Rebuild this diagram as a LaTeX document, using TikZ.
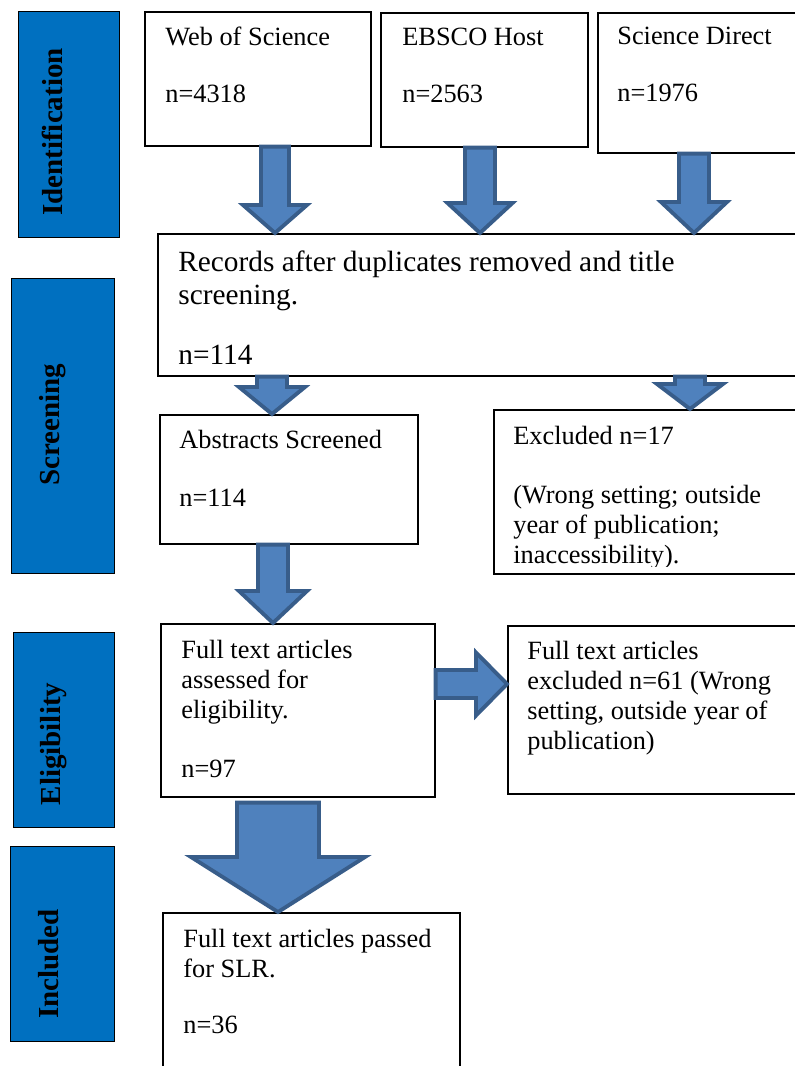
\documentclass[tikz,border=0pt]{standalone}
\usepackage{fontspec}
\setmainfont{Liberation Serif}
\usetikzlibrary{calc}
\definecolor{barblue}{HTML}{0070C0}
\definecolor{arrowfill}{HTML}{4F81BD}
\definecolor{arrowline}{HTML}{385D8A}
\newcommand{\fatdown}[5]{%
  \path[blockarrow] let \p1=(#1), \p2=(#2) in
    ({\x1-#3},\y1) -- ({\x1+#3},\y1) -- ({\x1+#3},{\y2+#5}) -- ({\x1+#4},{\y2+#5})
    -- (\x1,\y2) -- ({\x1-#4},{\y2+#5}) -- ({\x1-#3},{\y2+#5}) -- cycle;}
\newcommand{\fatright}[5]{%
  \path[blockarrow] let \p1=(#1), \p2=(#2) in
    (\x1,{\y1+#3}) -- (\x1,{\y1-#3}) -- ({\x2-#5},{\y1-#3}) -- ({\x2-#5},{\y1-#4})
    -- (\x2,\y1) -- ({\x2-#5},{\y1+#4}) -- ({\x2-#5},{\y1+#3}) -- cycle;}

\begin{document}
\begin{tikzpicture}[x=0.02cm, y=-0.02cm]
\tikzset{phase/.style 2 args = {draw, line width=.8pt, fill=barblue, anchor=north west, inner sep=0,
  minimum width=#1*0.02cm, minimum height=#2*0.02cm}}
\tikzset{phaselabel/.style = {rotate=90, anchor=base, inner sep=0, font=\bfseries\fontsize{16.5}{19}\selectfont}}
\tikzset{textbox/.style 2 args = {draw, line width=.9pt, anchor=north west, inner sep=0,
  minimum width=#1*0.02cm, minimum height=#2*0.02cm}}
\tikzset{txt/.style = {anchor=north west, align=left, inner sep=0, font=\fontsize{15}{17.07}\selectfont}}
\tikzset{blockarrow/.style = {fill=arrowfill, draw=arrowline, line width=2.2pt, line join=miter}}

\clip (0,0) rectangle (795,1066);

\node[phase={101}{226}] (ident) at (18,11) {};
\node[phase={103}{295}] (screen) at (11,278) {};
\node[phase={101}{195}] (elig) at (13,632) {};
\node[phase={104}{195}] (incl) at (10,846) {};

\node[phaselabel] (identtxt) at (62,132) {Identification};
\node[phaselabel] (screentxt) at (59,425) {Screening};
\node[phaselabel] (eligtxt) at (60,744) {Eligibility};
\node[phaselabel] (incltxt) at (58,964) {Included};

\node[textbox={226}{134}] (wos) at (144,11) {};
\node[textbox={207}{134}] (ebsco) at (380,12) {};
\node[textbox={210}{140}] (sd) at (597,12) {};
\node[textbox={650}{142}] (rec) at (157,233) {};
\node[textbox={258}{129}] (abs) at (159,414) {};
\node[textbox={310}{164}] (exc) at (493,409) {};
\node[textbox={274}{173}] (full) at (160,623) {};
\node[textbox={300}{168}] (exctwo) at (507,625) {};
\node[textbox={297}{170}] (final) at (162,912) {};

\node[txt] (wostxt) at ($(wos.north west)+(21,16)$) {Web of Science\\[15.4pt]n=4318};
\node[txt] (ebscotxt) at ($(ebsco.north west)+(22,15.5)$) {EBSCO Host\\[15.4pt]n=2563};
\node[txt] (sdtxt) at ($(sd.north west)+(20,15)$) {Science Direct\\[15.4pt]n=1976};
\node[txt, font=\fontsize{16.7}{18.8}\selectfont] (rectxt) at ($(rec.north west)+(21,17)$)
  {Records after duplicates removed and title\\screening.\\[15.4pt]n=114};
\node[txt] (abstxt) at ($(abs.north west)+(20,16)$) {Abstracts Screened\\[16pt]n=114};
\begin{scope}
\clip (exc.north west) rectangle ($(exc.south east)+(0,-8.5)$);
\node[txt] (exctxt) at ($(exc.north west)+(20,17)$)
  {Excluded n=17\\[16.5pt](Wrong setting; outside\\year of publication;\\inaccessibility).};
\end{scope}
\node[txt] (fulltxt) at ($(full.north west)+(21,17)$)
  {Full text articles\\assessed for\\eligibility.\\[16.5pt]n=97};
\node[txt] (exctwotxt) at ($(exctwo.north west)+(20,16)$)
  {Full text articles\\excluded n=61 (Wrong\\setting, outside year of\\publication)};
\node[txt] (finaltxt) at ($(final.north west)+(21,17)$)
  {Full text articles passed\\for SLR.\\[14.8pt]n=36};

\fatdown{275,0 |- wos.south}{275,0 |- rec.north}{0.28cm}{0.64cm}{0.56cm}
\fatdown{480,0 |- ebsco.south}{480,0 |- rec.north}{0.3cm}{0.65cm}{0.6cm}
\fatdown{694,0 |- sd.south}{694,0 |- rec.north}{0.3cm}{0.66cm}{0.62cm}
\fatdown{272,0 |- rec.south}{272,0 |- abs.north}{0.3cm}{0.66cm}{0.54cm}
\fatdown{690,0 |- rec.south}{690,0 |- exc.north}{0.3cm}{0.66cm}{0.5cm}
\fatdown{273,0 |- abs.south}{273,0 |- full.north}{0.3cm}{0.68cm}{0.64cm}
\fatright{full.east |- 0,684}{exctwo.west |- 0,684}{0.28cm}{0.63cm}{0.62cm}
\fatdown{$(278,0 |- full.south)+(0,5)$}{278,0 |- final.north}{0.82cm}{1.74cm}{1.1cm}

\end{tikzpicture}
\end{document}
